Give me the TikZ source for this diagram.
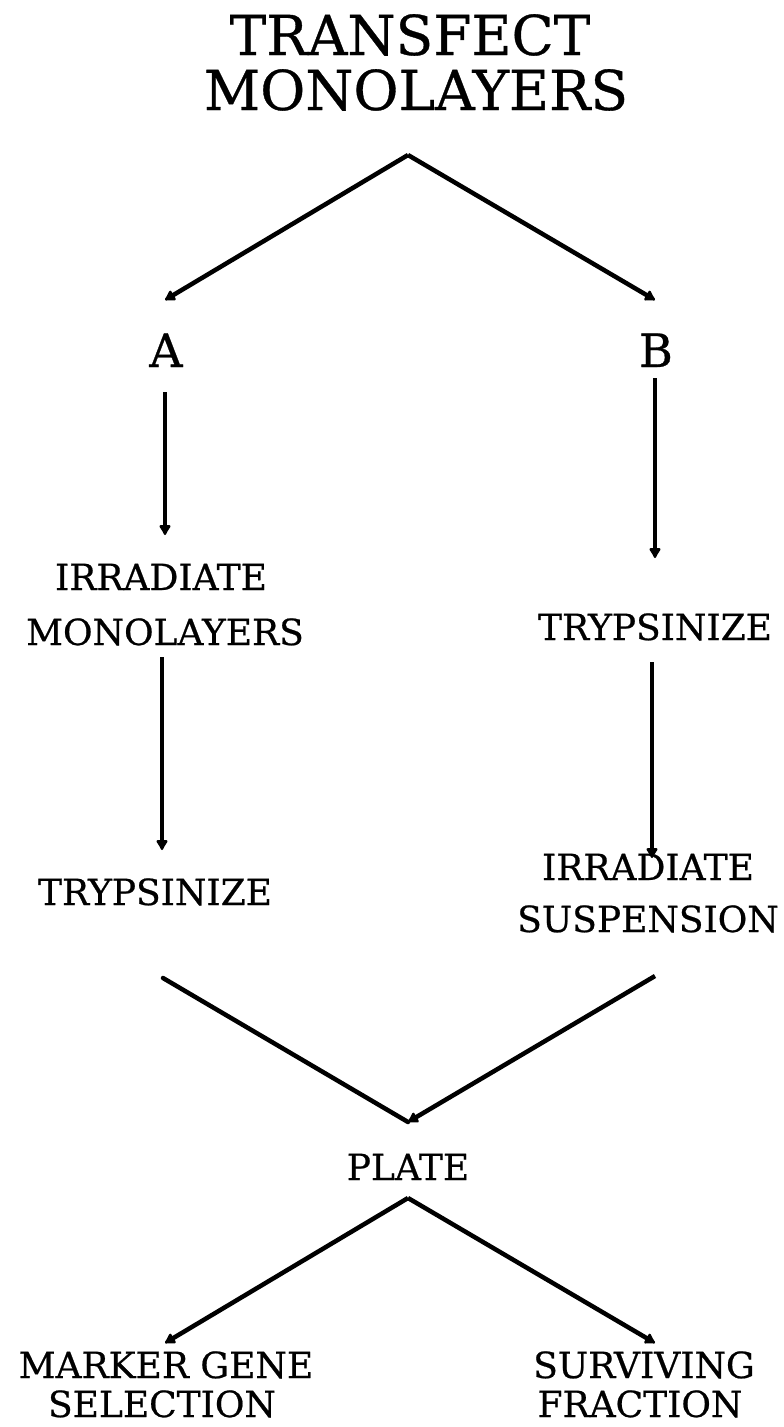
\documentclass[tikz,border=0pt]{standalone}
\usepackage{fontspec}
\setmainfont{DejaVu Serif}[UprightFeatures={FakeBold=0.6}]
\usetikzlibrary{arrows.meta}
\begin{document}
\begin{tikzpicture}[x=1pt,y=-1pt,
  lbl/.style={anchor=base, inner sep=0pt, font=\fontsize{36}{40}\selectfont},
  ttl/.style={anchor=base, inner sep=0pt, font=\fontsize{55}{60}\selectfont},
  letter/.style={anchor=base, inner sep=0pt, font=\fontsize{46}{50}\selectfont},
  flow/.style={line width=4.5pt, -{Latex[length=12pt,width=14pt,round]}},
  seg/.style={line width=4.5pt, line cap=round}]
\useasboundingbox (0,0) rectangle (784,1427);
% texts
\node[ttl] (t1) at (410,55) {TRANSFECT};
\node[ttl] (t2) at (416,110) {MONOLAYERS};
\node[letter] (A) at (166,367) {A};
\node[letter] (B) at (656,367) {B};
\node[lbl] (ia1) at (161,590) {IRRADIATE};
\node[lbl] (ia2) at (165,645) {MONOLAYERS};
\node[lbl] (tb) at (655,640) {TRYPSINIZE};
\node[lbl] (ta) at (155,905) {TRYPSINIZE};
\node[lbl] (ib1) at (648,880) {IRRADIATE};
\node[lbl] (ib2) at (648,932) {SUSPENSION};
\node[lbl] (pl) at (408,1180) {PLATE};
\node[lbl] (m1) at (166,1378) {MARKER GENE};
\node[lbl] (m2) at (162,1417) {SELECTION};
\node[lbl] (s1) at (644,1378) {SURVIVING};
\node[lbl] (s2) at (640,1417) {FRACTION};
% connector ends
\coordinate (apex) at (408,155);
\coordinate (aIn) at (165,300);
\coordinate (bIn) at (655,300);
\coordinate (aOut) at (165,392);
\coordinate (aEnd) at (165,535);
\coordinate (bOut) at (655,378);
\coordinate (bEnd) at (655,558);
\coordinate (a2Out) at (162,657);
\coordinate (a2End) at (162,850);
\coordinate (b2Out) at (652,662);
\coordinate (b2End) at (652,858);
\coordinate (aV) at (163,978);
\coordinate (bV) at (655,976);
\coordinate (merge) at (408,1122);
\coordinate (plOut) at (408,1198);
\coordinate (mIn) at (165,1343);
\coordinate (sIn) at (655,1343);
% connectors
\draw[flow] (apex) -- (aIn);
\draw[flow] (apex) -- (bIn);
\draw[flow] (aOut) -- (aEnd);
\draw[flow] (bOut) -- (bEnd);
\draw[flow] (a2Out) -- (a2End);
\draw[flow] (b2Out) -- (b2End);
\draw[seg] (aV) -- (merge);
\draw[flow] (bV) -- (merge);
\draw[flow] (plOut) -- (mIn);
\draw[flow] (plOut) -- (sIn);
\end{tikzpicture}
\end{document}
